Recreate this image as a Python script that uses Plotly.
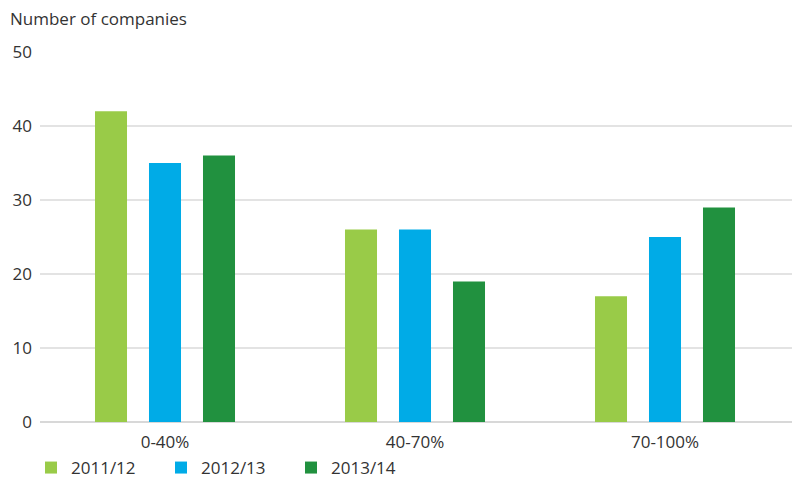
import plotly.graph_objects as go

categories = ["0-40%", "40-70%", "70-100%"]
series_names = ["2011/12", "2012/13", "2013/14"]
values_2011 = [42, 26, 17]
values_2012 = [35, 26, 25]
values_2013 = [36, 19, 29]
colors = ["#99CB48", "#00ABE7", "#21913F"]
y_ticks = [0, 10, 20, 30, 40, 50]

# page has an 8px body margin, so the figure is sized to fit inside the window
W, H = 792, 473

fig = go.Figure()
for name, vals, col in zip(series_names, [values_2011, values_2012, values_2013], colors):
    fig.add_trace(go.Bar(x=categories, y=vals, name=name, marker=dict(color=col, line=dict(width=0))))

font_family = "Open Sans, Noto Sans, sans-serif"
fig.update_layout(
    width=W, height=H,
    margin=dict(l=32, r=0, t=44, b=59, autoexpand=False),
    plot_bgcolor="white", paper_bgcolor="white",
    barmode="group", bargap=0.352, bargroupgap=0.407,
    font=dict(family=font_family, size=17, color="#333333"),
    showlegend=True,
    legend=dict(orientation="h", xref="container", yref="container", x=23 / W, y=1 - 460 / H,
                xanchor="left", yanchor="middle",
                font=dict(size=17, color="#333333"),
                entrywidth=85, entrywidthmode="pixels", traceorder="normal"),
    xaxis=dict(range=[-0.5, 2.54], showgrid=False, showline=False, ticks="", automargin=False,
               tickfont=dict(size=17, color="#333333"), ticklabelstandoff=8),
    yaxis=dict(range=[0, 50], tickvals=y_ticks, showgrid=True, gridcolor="#e3e3e3", gridwidth=1.5,
               zeroline=True, zerolinecolor="#d8d8d8", zerolinewidth=2, automargin=False,
               tickfont=dict(size=17, color="#333333"), ticks="", ticklabelstandoff=7),
    annotations=[dict(text="Number of companies", xref="paper", yref="paper",
                      x=-32 / 760, y=1 + (44 - 10) / 370, xanchor="left", yanchor="middle",
                      showarrow=False, font=dict(size=17, color="#333333"))],
)
fig.write_html("out.html")
